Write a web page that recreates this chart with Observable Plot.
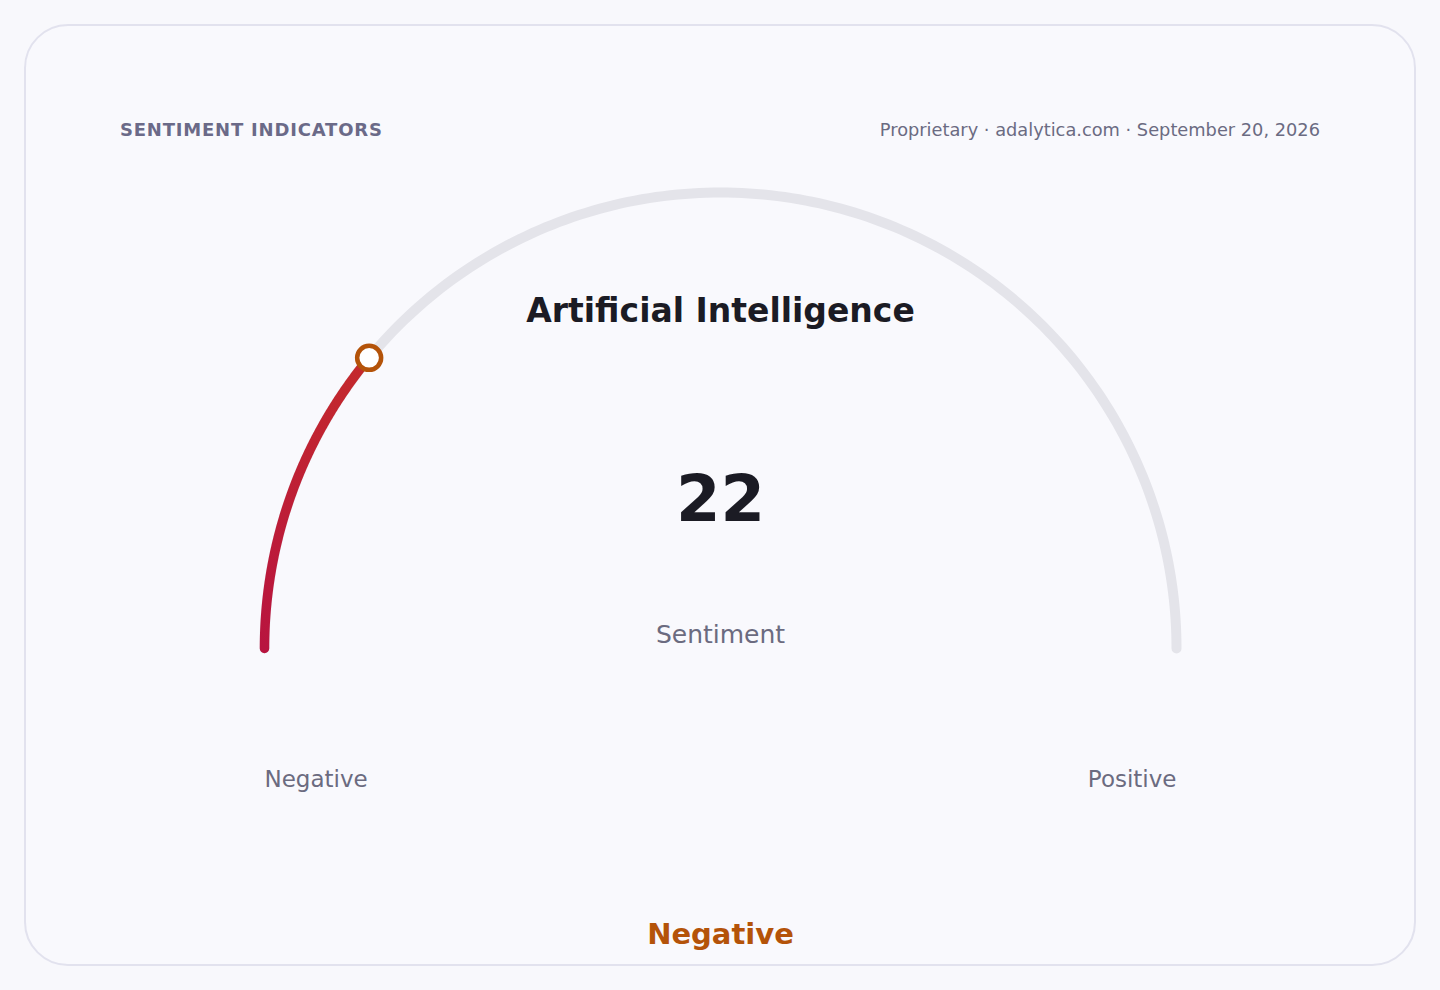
<!DOCTYPE html>
<html>
<head>
<meta charset="utf-8">
<script src="https://cdn.jsdelivr.net/npm/d3@7"></script>
<script src="https://cdn.jsdelivr.net/npm/@observablehq/plot@0.6"></script>
<style>
  html, body { margin: 0; padding: 0; background: #f8f8fc; width: 1440px; height: 990px; overflow: hidden; font-family: "DejaVu Sans", sans-serif; }
  #card { position: absolute; left: 24px; top: 24px; width: 1392px; height: 942px; box-sizing: border-box; border: 2px solid #e2e2ee; border-radius: 44px; background: #f9f9fd; }
  #kicker { position: absolute; left: 120px; top: 119px; font-size: 18px; font-weight: bold; letter-spacing: 0.8px; color: #6b6a88; font-family: "DejaVu Sans", sans-serif; }
  #source { position: absolute; right: 120px; top: 119px; font-size: 17.8px; color: #6b6b82; font-family: "DejaVu Sans", sans-serif; }
  #chart { position: absolute; left: 0; top: 0; }
</style>
</head>
<body>
<div id="card"></div>
<div id="kicker">SENTIMENT INDICATORS</div>
<div id="source">Proprietary · adalytica.com · September 20, 2026</div>
<div id="chart"></div>
<script>
// ---- data ----
const topic = "Artificial Intelligence";
const metricLabel = "Sentiment";
const value = 22;
const scaleMin = 0;
const scaleMax = 100;
const endLabels = ["Negative", "Positive"];
const verdict = "Negative";

// ---- geometry helpers (unit circle, angle from left end) ----
const toAngle = v => Math.PI * (1 - (v - scaleMin) / (scaleMax - scaleMin));
const arcPoints = (v0, v1) => d3.range(0, 201).map(i => {
  const v = v0 + (v1 - v0) * i / 200;
  const a = toAngle(v);
  return {x: Math.cos(a), y: Math.sin(a)};
});
const track = arcPoints(scaleMin, scaleMax);
const filled = arcPoints(scaleMin, value);
const marker = [{x: Math.cos(toAngle(value)), y: Math.sin(toAngle(value))}];

const svg = Plot.plot({
  width: 1440,
  height: 990,
  margin: 0,
  style: {background: "transparent", fontFamily: "DejaVu Sans, sans-serif", overflow: "visible"},
  x: {domain: [-1, 1], range: [264, 1176], axis: null},
  y: {domain: [-1, 1], range: [1104, 192], axis: null},
  marks: [
    Plot.line(track, {x: "x", y: "y", stroke: "#e4e4ea", strokeWidth: 10, strokeLinecap: "round"}),
    Plot.line(filled, {x: "x", y: "y", stroke: "url(#valgrad)", strokeWidth: 9.5, strokeLinecap: "round"}),
    Plot.dot(marker, {x: "x", y: "y", r: 12, fill: "#ffffff", stroke: "#b45309", strokeWidth: 4.5}),
    Plot.text([topic], {text: d => d, frameAnchor: "top", dy: 321, lineAnchor: "bottom", fontSize: 33, fontWeight: "bold", fill: "#1b1b24"}),
    Plot.text([value], {text: d => String(d), frameAnchor: "top", dy: 520, lineAnchor: "bottom", fontSize: 64, fontWeight: "bold", fill: "#1b1b24"}),
    Plot.text([metricLabel], {text: d => d, frameAnchor: "top", dy: 642, lineAnchor: "bottom", fontSize: 25, fill: "#6b6b80"}),
    Plot.text([endLabels[0]], {x: [-1], text: d => d, frameAnchor: "top", dy: 786, lineAnchor: "bottom", textAnchor: "start", fontSize: 23, fill: "#6b6b80"}),
    Plot.text([endLabels[1]], {x: [1], text: d => d, frameAnchor: "top", dy: 786, lineAnchor: "bottom", textAnchor: "end", fontSize: 23, fill: "#6b6b80"}),
    Plot.text([verdict], {text: d => d, frameAnchor: "top", dy: 943, lineAnchor: "bottom", fontSize: 29, fontWeight: "bold", fill: "#b45309"})
  ]
});

// gradient along the filled arc, built from the scales
const sx = svg.scale("x"), sy = svg.scale("y");
const p0 = filled[0], p1 = filled[filled.length - 1];
const ns = "http://www.w3.org/2000/svg";
const defs = document.createElementNS(ns, "defs");
const grad = document.createElementNS(ns, "linearGradient");
grad.setAttribute("id", "valgrad");
grad.setAttribute("gradientUnits", "userSpaceOnUse");
grad.setAttribute("x1", sx.apply(p0.x));
grad.setAttribute("y1", sy.apply(p0.y));
grad.setAttribute("x2", sx.apply(p1.x));
grad.setAttribute("y2", sy.apply(p1.y));
[["0%", "#b8143f"], ["100%", "#c42a2c"]].forEach(([o, c]) => {
  const s = document.createElementNS(ns, "stop");
  s.setAttribute("offset", o);
  s.setAttribute("stop-color", c);
  grad.appendChild(s);
});
defs.appendChild(grad);
svg.insertBefore(defs, svg.firstChild);

document.getElementById("chart").appendChild(svg);
</script>
</body>
</html>
